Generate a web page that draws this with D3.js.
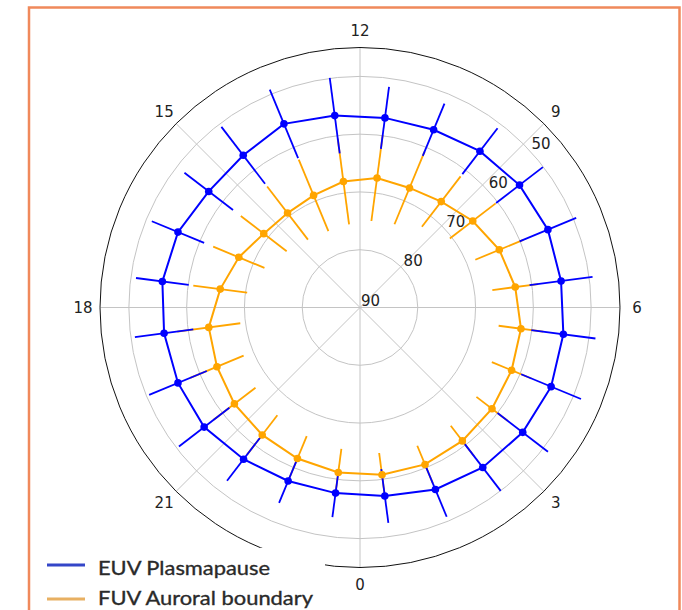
<!DOCTYPE html>
<html>
<head>
<meta charset="utf-8">
<script src="https://cdn.jsdelivr.net/npm/d3@7/dist/d3.min.js"></script>
<style>
  html, body { margin: 0; padding: 0; background: #fff; }
  svg { display: block; }
</style>
</head>
<body>
<svg id="chart" width="682" height="610"></svg>
<script>
// Magnetic local time of each bin centre (hours)
const hours = [0.5, 1.5, 2.5, 3.5, 4.5, 5.5, 6.5, 7.5, 8.5, 9.5, 10.5, 11.5,
               12.5, 13.5, 14.5, 15.5, 16.5, 17.5, 18.5, 19.5, 20.5, 21.5, 22.5, 23.5];

// EUV plasmapause footprint latitude (deg) and its spread
const euvLat = [57.1, 55.9, 55.1, 54.5, 54.2, 54.5, 54.9, 54.8, 55.2, 55.9, 56.7, 56.9,
                56.5, 55.6, 56.8, 57.0, 55.9, 55.5, 55.8, 55.9, 56.0, 56.9, 57.5, 57.6];
const euvErr = [4.7, 5.1, 5.1, 5.5, 5.6, 5.6, 5.5, 5.3, 5.1, 5.0, 4.9, 5.4,
                6.6, 6.4, 6.2, 5.3, 4.9, 4.6, 5.1, 5.4, 5.5, 4.7, 4.1, 4.2];

// FUV equatorward auroral boundary latitude (deg) and its spread
const fuvLat = [60.8, 60.6, 60.9, 61.2, 61.6, 61.9, 62.9, 63.9, 65.4, 66.9, 67.6, 67.4,
                68.0, 69.0, 69.4, 69.0, 67.3, 65.6, 63.6, 63.2, 62.6, 62.2, 61.7, 61.2];
const fuvErr = [3.8, 3.5, 3.3, 3.4, 3.7, 3.9, 4.0, 4.5, 5.0, 5.5, 6.8, 7.5,
                7.5, 6.7, 5.8, 5.0, 4.8, 4.7, 5.5, 5.0, 4.6, 4.3, 4.2, 4.1];

const hourTicks = [0, 3, 6, 9, 12, 15, 18, 21];
const latTicks = [90, 80, 70, 60, 50];
const latRings = [80, 70, 60, 50];
const latEdge = 45;

const seriesNames = ["EUV Plasmapause", "FUV Auroral boundary"];

const W = 682, H = 610;
const cx = 360, cy = 307.5, R = 260;

const svg = d3.select("#chart");
svg.append("rect").attr("width", W).attr("height", H).attr("fill", "#fff");

// panel frame
svg.append("rect")
  .attr("x", 29).attr("y", 7.5).attr("width", 650.5).attr("height", 700)
  .attr("fill", "none").attr("stroke", "#F0895B").attr("stroke-width", 2.5);

const g = svg.append("g").attr("transform", `translate(${cx},${cy})`);

// radial: colatitude grows outward, pole at centre
const r = d3.scaleLinear().domain([90, latEdge]).range([0, R]);
// angular: 12 MLT at top, hours decreasing clockwise (d3 angles are clockwise from top)
const a = d3.scaleLinear().domain([0, 24]).range([Math.PI, -Math.PI]);

const px = (h, lat) => r(lat) * Math.sin(a(h));
const py = (h, lat) => -r(lat) * Math.cos(a(h));

// grid rings
g.selectAll("circle.ring").data(latRings).join("circle")
  .attr("class", "ring").attr("r", d => r(d))
  .attr("fill", "none").attr("stroke", "#c4c4c4").attr("stroke-width", 1);

// grid spokes
g.selectAll("line.spoke").data(hourTicks).join("line")
  .attr("class", "spoke")
  .attr("x1", 0).attr("y1", 0)
  .attr("x2", d => px(d, latEdge)).attr("y2", d => py(d, latEdge))
  .attr("stroke", "#c4c4c4").attr("stroke-width", 1);

// outer boundary
g.append("circle").attr("r", r(latEdge))
  .attr("fill", "none").attr("stroke", "#111").attr("stroke-width", 1);

// hour labels
g.selectAll("text.hour").data(hourTicks).join("text")
  .attr("class", "hour")
  .attr("x", d => (R + 17) * Math.sin(a(d)))
  .attr("y", d => -(R + 17) * Math.cos(a(d)))
  .attr("text-anchor", "middle").attr("dominant-baseline", "central")
  .attr("font-family", "DejaVu Sans").attr("font-size", 15).attr("fill", "#222")
  .text(d => d);

// latitude labels along a ray just below the 9 MLT spoke
const labAng = 42.5 * Math.PI / 180;
g.selectAll("text.lat").data(latTicks).join("text")
  .attr("class", "lat")
  .attr("x", d => r(d) * Math.cos(labAng) + 1)
  .attr("y", d => -r(d) * Math.sin(labAng) - 2)
  .attr("font-family", "DejaVu Sans").attr("font-size", 15).attr("fill", "#222")
  .text(d => d);

const euv = hours.map((h, i) => ({ h, lat: euvLat[i], err: euvErr[i] }));
const fuv = hours.map((h, i) => ({ h, lat: fuvLat[i], err: fuvErr[i] }));

const BLUE = "#0000ff", ORANGE = "#ffa500";

function bars(data, color) {
  g.append("g").selectAll("line").data(data).join("line")
    .attr("x1", d => px(d.h, d.lat - d.err)).attr("y1", d => py(d.h, d.lat - d.err))
    .attr("x2", d => px(d.h, d.lat + d.err)).attr("y2", d => py(d.h, d.lat + d.err))
    .attr("stroke", color).attr("stroke-width", 1.8);
}

function trace(data, color) {
  const line = d3.lineRadial()
    .angle(d => a(d.h)).radius(d => r(d.lat))
    .curve(d3.curveLinearClosed);
  g.append("path").datum(data).attr("d", line)
    .attr("fill", "none").attr("stroke", color).attr("stroke-width", 2);
  g.append("g").selectAll("circle").data(data).join("circle")
    .attr("cx", d => px(d.h, d.lat)).attr("cy", d => py(d.h, d.lat))
    .attr("r", 3.8).attr("fill", color);
}

bars(fuv, ORANGE);
bars(euv, BLUE);
trace(fuv, ORANGE);
trace(euv, BLUE);

// legend
const leg = svg.append("g");
leg.append("rect").attr("x", 31).attr("y", 548).attr("width", 294).attr("height", 70)
  .attr("fill", "#fff");
const legColors = ["#3446c8", "#e8b062"];
const legWidths = [172, 215];
seriesNames.forEach((name, i) => {
  const y = 565 + i * 34;
  leg.append("line").attr("x1", 47).attr("x2", 85).attr("y1", y).attr("y2", y)
    .attr("stroke", legColors[i]).attr("stroke-width", 3);
  leg.append("text").attr("x", 98).attr("y", i === 0 ? 575 : 605)
    .attr("font-family", "Lato").attr("font-size", 20).attr("fill", "#2a2a2a")
    .attr("stroke", "#2a2a2a").attr("stroke-width", 0.35)
    .attr("textLength", legWidths[i]).attr("lengthAdjust", "spacingAndGlyphs")
    .text(name);
});
</script>
</body>
</html>
